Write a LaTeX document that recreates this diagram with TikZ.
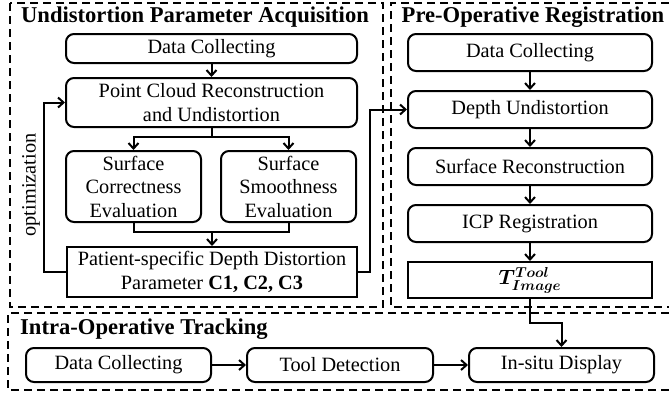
\documentclass[tikz,border=0pt]{standalone}
\usepackage{fontspec}
\setmainfont{Liberation Serif}
\usepackage{amsmath, bm}
\usepackage{tikz}
\usetikzlibrary{arrows.meta, positioning}
\newcommand{\bodyfont}{\fontsize{20.3}{23.5}\selectfont}
\newcommand{\headfont}{\fontsize{22.6}{26}\selectfont\bfseries}

\begin{document}
\begin{tikzpicture}[x=1pt, y=-1pt,
  box/.style={rectangle, rounded corners=8pt, draw, line width=2pt,
              inner sep=0pt, align=center, font=\bodyfont},
  flat/.style={box, rounded corners=0pt},
  frame/.style={line width=1.8pt, dash pattern=on 8pt off 5pt},
  heading/.style={font=\headfont, inner sep=0pt},
  arrow/.style={-{Straight Barb[length=5.5pt, width=10pt]}, line width=2pt},
  link/.style={line width=2pt},
  node distance=18pt and 34pt
]
\useasboundingbox (0,0) rectangle (669,397);

% frames
\draw[frame] (10,3) rectangle (383,307);
\draw[frame] (669,3) -- (391,3) -- (391,307) -- (669,307);
\draw[frame] (669,313) -- (8,313) -- (8,390) -- (669,390);

% Undistortion column
\node[heading] (ltitle) at (195,17) {Undistortion Parameter Acquisition};
\node[box, minimum width=291pt, minimum height=29pt] (lcollect) at (211.5,48.5) {Data Collecting};
\node[box, minimum width=291pt, minimum height=49pt] (lrecon) at (211.5,102.5)
  {Point Cloud Reconstruction\\and Undistortion};
\node[box, minimum width=135pt, minimum height=71pt] (correct) at (133.5,186.5)
  {Surface\\Correctness\\Evaluation};
\node[box, minimum width=135pt, minimum height=71pt] (smooth) at (288.5,186.5)
  {Surface\\Smoothness\\Evaluation};
\node[flat, minimum width=290pt, minimum height=50pt] (param) at (212,272)
  {Patient-specific Depth Distortion\\Parameter \textbf{C1, C2, C3}};
\node[font=\bodyfont, rotate=90] (optlabel) at (31,185) {optimization};

\coordinate (split) at (211.5,137);
\coordinate (merge) at (212,232);
\coordinate (loopl) at (44,272);
\coordinate (loopr) at (370,272);

\draw[arrow] (lcollect) -- (lrecon);
\draw[link] (lrecon.south) -- (split);
\draw[arrow] (split) -| (correct.north);
\draw[arrow] (split) -| (smooth.north);
\draw[link] (correct.south) |- (merge) -| (smooth.south);
\draw[arrow] (merge) -- (param.north);
\draw[arrow] (param.west) -- (loopl) |- (lrecon.west);

% Registration column
\node[heading] (rtitle) at (533,17) {Pre-Operative Registration};
\node[box, minimum width=244pt, minimum height=37pt] (rcollect) at (530,52.5) {Data Collecting};
\node[box, minimum width=244pt, minimum height=37pt, below=of rcollect] (undist) {Depth Undistortion};
\node[box, minimum width=244pt, minimum height=37pt, below=of undist] (surfrec) {Surface Reconstruction};
\node[box, minimum width=244pt, minimum height=37pt, below=of surfrec] (icp) {ICP Registration};
\node[flat, minimum width=244pt, minimum height=36pt, below=of icp] (tmat)
  {\fontsize{22}{24}\selectfont$\bm{T^{Tool}_{Image}}$};

\draw[arrow] (rcollect) -- (undist);
\draw[arrow] (undist) -- (surfrec);
\draw[arrow] (surfrec) -- (icp);
\draw[arrow] (icp) -- (tmat);
\draw[arrow] (param.east) -- (loopr) |- (undist.west);

% Tracking row
\node[heading, anchor=west] (btitle) at (20,329) {Intra-Operative Tracking};
\node[box, minimum width=185pt, minimum height=34pt] (bcollect) at (118.5,365) {Data Collecting};
\node[box, minimum width=186pt, minimum height=34pt, right=of bcollect] (tooldet) {Tool Detection};
\node[box, minimum width=185pt, minimum height=34pt, right=of tooldet] (insitu) {In-situ Display};
\coordinate (tbend) at (530,323);

\draw[arrow] (bcollect) -- (tooldet);
\draw[arrow] (tooldet) -- (insitu);
\draw[arrow] (tmat.south) -- (tbend) -| (insitu.north);

\end{tikzpicture}
\end{document}
